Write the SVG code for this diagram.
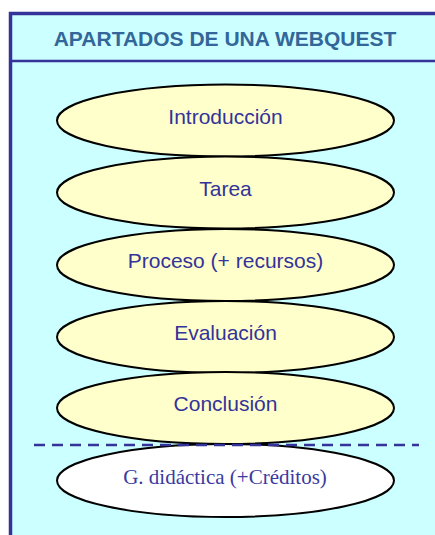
<svg xmlns="http://www.w3.org/2000/svg" width="435" height="535" viewBox="0 0 435 535">
<style>
.el{fill:#FFFFCC;stroke:#000;stroke-width:2}
.t{font-family:"Liberation Sans",Arial,sans-serif;font-size:21px;fill:#333399;text-anchor:middle}
.ts{font-family:"Liberation Serif","Times New Roman",serif;font-size:21px;fill:#3A3A9F;text-anchor:middle}
</style>
<rect x="0" y="0" width="435" height="535" fill="#FFFFFF"/>
<g id="frame">
<rect x="10.5" y="13.5" width="440" height="540" fill="#CCFFFF" stroke="#333399" stroke-width="3.5"/>
<line x1="10" y1="61" x2="435" y2="61" stroke="#333399" stroke-width="2.5"/>
<text x="225" y="46" style="font-family:'Liberation Sans',Arial,sans-serif;font-size:21px;font-weight:bold;fill:#336699;text-anchor:middle">APARTADOS DE UNA WEBQUEST</text>
</g>
<g id="n1"><ellipse class="el" cx="225.5" cy="120.5" rx="168.5" ry="36"/><text class="t" x="225.5" y="123.5">Introducción</text></g>
<g id="n2"><ellipse class="el" cx="225.5" cy="192.5" rx="168.5" ry="36"/><text class="t" x="225.5" y="195.5">Tarea</text></g>
<g id="n3"><ellipse class="el" cx="225.5" cy="265" rx="168.5" ry="36"/><text class="t" x="225.5" y="267.5">Proceso (+ recursos)</text></g>
<g id="n4"><ellipse class="el" cx="225.5" cy="337" rx="168.5" ry="36"/><text class="t" x="225.5" y="339.5">Evaluación</text></g>
<g id="n5"><ellipse class="el" cx="225.5" cy="408" rx="168.5" ry="36"/><text class="t" x="225.5" y="411">Conclusión</text></g>
<g id="n6"><ellipse class="el" cx="225.5" cy="480.5" rx="168.5" ry="36.5" style="fill:#FFFFFF"/><text class="ts" x="225" y="484">G. didáctica (+Créditos)</text></g>
<g id="connectors">
<line x1="34" y1="445" x2="419" y2="445" stroke="#333399" stroke-width="2.5" stroke-dasharray="11,7"/>
</g>
</svg>
